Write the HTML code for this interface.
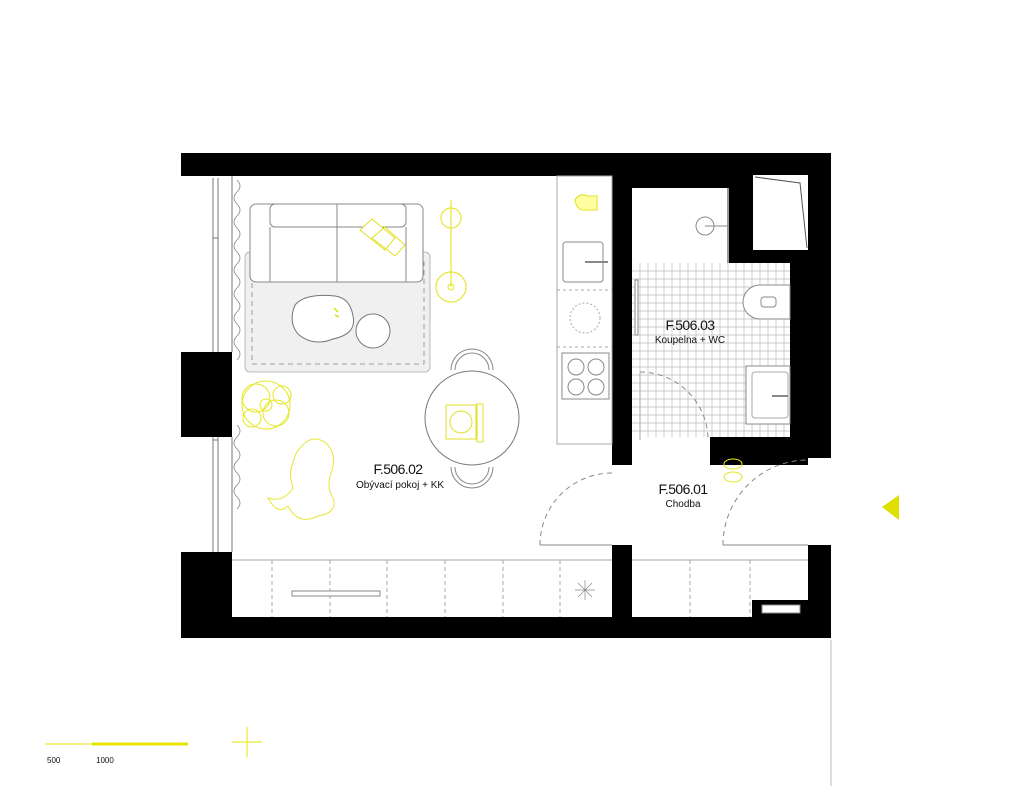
<!DOCTYPE html>
<html><head><meta charset="utf-8"><style>
html,body{margin:0;padding:0;background:#fff}
svg{display:block}
text{font-family:"Liberation Sans",sans-serif;fill:#111}
</style></head><body>
<svg width="1024" height="786" viewBox="0 0 1024 786" xmlns="http://www.w3.org/2000/svg">
<rect x="181" y="153" width="650" height="485" fill="#000"/>
<rect x="232" y="176" width="380" height="441" fill="#fff"/>
<rect x="612" y="465" width="196" height="80" fill="#fff"/>
<rect x="632" y="437" width="78" height="30" fill="#fff"/>
<rect x="632" y="545" width="176" height="72" fill="#fff"/>
<rect x="808" y="458" width="23" height="87" fill="#fff"/>
<rect x="632" y="188" width="96" height="76" fill="#fff"/>
<rect x="632" y="263" width="158" height="174" fill="#fff"/>
<g stroke="#bbb" stroke-width="0.7">
<path d="M632 271H790M632 279H790M632 287H790M632 295H790M632 303H790M632 311H790M632 319H790M632 327H790M632 335H790M632 343H790M632 351H790M632 359H790M632 367H790M632 375H790M632 383H790M632 391H790M632 399H790M632 407H790M632 415H790M632 423H790M632 431H790"/>
<path d="M640 263V437M648 263V437M656 263V437M664 263V437M672 263V437M680 263V437M688 263V437M696 263V437M704 263V437M712 263V437M720 263V437M728 263V437M736 263V437M744 263V437M752 263V437M760 263V437M768 263V437M776 263V437M784 263V437"/>
</g>
<rect x="753" y="175" width="55" height="75" fill="#fff"/>
<path d="M755 177L800 183L807 248" stroke="#555" fill="none"/>
<rect x="181" y="176" width="51" height="176" fill="#fff"/>
<rect x="181" y="437" width="51" height="115" fill="#fff"/>
<g stroke="#777" fill="none" stroke-width="1">
<path d="M213 178V352M218 178V352M232 176V352M213 437V552M218 437V552M232 437V552M213 238H218M213 440H218"/>
</g>
<path d="M237 180 q6 6 0 12 q-6 6 0 12 q6 6 0 12 q-6 6 0 12 q6 6 0 12 q-6 6 0 12 q6 6 0 12 q-6 6 0 12 q6 6 0 12 q-6 6 0 12 q6 6 0 12 q-6 6 0 12 q6 6 0 12 q-6 6 0 12 q6 6 0 12" stroke="#888" fill="none" stroke-width="0.8"/>
<path d="M237 425 q6 6 0 12 q-6 6 0 12 q6 6 0 12 q-6 6 0 12 q6 6 0 12 q-6 6 0 12 q6 6 0 12" stroke="#888" fill="none" stroke-width="0.8"/>
<rect x="245" y="252" width="185" height="120" rx="5" fill="#f0f0f0" stroke="#aaa" stroke-width="0.8"/>
<rect x="252" y="262" width="172" height="102" fill="none" stroke="#888" stroke-dasharray="5 4" stroke-width="0.8"/>
<g fill="#fff" stroke="#888" stroke-width="1">
<rect x="250" y="204" width="173" height="78" rx="6"/>
<rect x="270" y="204" width="136" height="23" rx="5"/>
<path d="M270 227V282M406 227V282M337 204V282"/>
</g>
<path d="M360 230L372 219L395 238L385 250Z M372 238L385 227L405 245L395 256Z" fill="#fff" stroke="#e0e020"/>
<path d="M295 305 q10-12 40-9 q15 2 18 20 q4 18-20 23 q-20 8-35-5 q-10-12-3-29z" fill="#fff" stroke="#777"/>
<circle cx="373" cy="331" r="17" fill="#fff" stroke="#777"/>
<path d="M334 308l4 4M335 315l4 2" stroke="#dd0" stroke-width="1.5"/>
<g stroke="#e6e633" fill="none" stroke-width="1.2">
<path d="M451 200V287"/><circle cx="451" cy="218" r="10"/><circle cx="451" cy="287" r="15"/><circle cx="451" cy="287" r="3"/>
</g>
<rect x="557" y="176" width="55" height="268" fill="#fff" stroke="#aaa"/>
<rect x="563" y="242" width="40" height="40" rx="3" fill="#fff" stroke="#888"/>
<path d="M585 262H608" stroke="#888" stroke-width="2"/>
<path d="M557 290H612M557 347H612" stroke="#aaa" stroke-dasharray="3 3"/>
<circle cx="585" cy="318" r="15" fill="none" stroke="#aaa" stroke-dasharray="2 2"/>
<rect x="562" y="353" width="47" height="46" fill="#fff" stroke="#888"/>
<g fill="none" stroke="#888"><circle cx="576" cy="367" r="8"/><circle cx="596" cy="367" r="8"/><circle cx="576" cy="387" r="8"/><circle cx="596" cy="387" r="8"/></g>
<path d="M575 200 q5-8 12-4 h10 v14 h-10 q-10 2-12-10z" fill="#ffffa0" stroke="#e0e020"/>
<path d="M451 370 a21 21 0 0 1 42 0 M455 370 a17 17 0 0 1 34 0" fill="none" stroke="#888"/>
<path d="M451 467 a21 21 0 0 0 42 0 M455 467 a17 17 0 0 0 34 0" fill="none" stroke="#888"/>
<circle cx="472" cy="418" r="47" fill="#fff" stroke="#777"/>
<rect x="446" y="405" width="30" height="34" fill="#fff" stroke="#e0e020"/>
<circle cx="461" cy="422" r="11" fill="none" stroke="#e0e020"/>
<rect x="477" y="404" width="6" height="38" fill="none" stroke="#e0e020"/>
<g fill="none" stroke="#e6e620" stroke-width="1">
<circle cx="266" cy="405" r="24"/><circle cx="256" cy="398" r="14"/><circle cx="276" cy="413" r="13"/><circle cx="266" cy="405" r="6"/><circle cx="252" cy="418" r="9"/><circle cx="282" cy="395" r="9"/>
</g>
<path d="M300 448 q12-15 26-5 q12 12 5 30 q-5 15 2 25 q5 15-15 18 q-20 10-30-10 q-10 10-20-8 q15 5 25-10 q-5-15 0-25 q2-10 7-15z" fill="none" stroke="#e6e633"/>
<path d="M232 560H612M632 560H808" stroke="#aaa"/>
<g stroke="#aaa" stroke-dasharray="4 3"><path d="M272 560V617M330 560V617M387 560V617M445 560V617M503 560V617M560 560V617M690 560V617M750 560V617"/></g>
<rect x="292" y="591" width="88" height="5" fill="#fff" stroke="#888"/>
<path d="M575 590h20M585 580v20M578 583l14 14M592 583l-14 14" stroke="#888" stroke-width="0.7"/>
<rect x="752" y="600" width="56" height="17" fill="#000"/>
<rect x="762" y="605" width="38" height="8" fill="#fff" stroke="#888"/>
<path d="M728 188V263" stroke="#999" stroke-width="2"/>
<circle cx="705" cy="226" r="9" fill="none" stroke="#888"/><path d="M705 226H728" stroke="#888"/>
<path d="M790 285h-30 a17 17 0 0 0 0 34h30z" fill="#fff" stroke="#888"/>
<rect x="761" y="297" width="15" height="10" rx="3" fill="none" stroke="#888"/>
<rect x="746" y="366" width="44" height="58" fill="#fff" stroke="#888"/>
<rect x="752" y="372" width="36" height="46" rx="3" fill="none" stroke="#aaa"/>
<path d="M772 396H788" stroke="#888" stroke-width="2"/>
<rect x="635" y="280" width="3" height="55" fill="#fff" stroke="#888"/>
<path d="M640 372 A68 68 0 0 1 708 440" fill="none" stroke="#888" stroke-dasharray="5 4"/>
<path d="M640 372V440" stroke="#aaa"/>
<path d="M540 545H612" stroke="#888"/>
<path d="M540 545 A72 72 0 0 1 612 473" fill="none" stroke="#888" stroke-dasharray="5 4"/>
<path d="M723 545H808" stroke="#888"/>
<path d="M723 545 A85 85 0 0 1 808 460" fill="none" stroke="#888" stroke-dasharray="5 4"/>
<g fill="none" stroke="#e6e620"><ellipse cx="733" cy="464" rx="9" ry="5"/><ellipse cx="733" cy="477" rx="9" ry="5"/></g>
<text x="398" y="474" font-size="14" text-anchor="middle" letter-spacing="-0.6">F.506.02</text>
<text x="400" y="488" font-size="10" text-anchor="middle">Obývací pokoj + KK</text>
<text x="690" y="330" font-size="14" text-anchor="middle" letter-spacing="-0.6">F.506.03</text>
<text x="690" y="343" font-size="10" text-anchor="middle">Koupelna + WC</text>
<text x="683" y="494" font-size="14" text-anchor="middle" letter-spacing="-0.6">F.506.01</text>
<text x="683" y="507" font-size="10" text-anchor="middle">Chodba</text>
<polygon points="899,495 899,520 882,507" fill="#e0e000"/>
<path d="M831 640V786" stroke="#bbb"/>
<path d="M45 744H92" stroke="#e6e600" stroke-width="1"/>
<path d="M92 744H188" stroke="#e6e600" stroke-width="3"/>
<path d="M232 742H262M247 727V757" stroke="#e6e600"/>
<text x="47" y="763" font-size="8">500</text>
<text x="96" y="763" font-size="8">1000</text>
</svg>
</body></html>
